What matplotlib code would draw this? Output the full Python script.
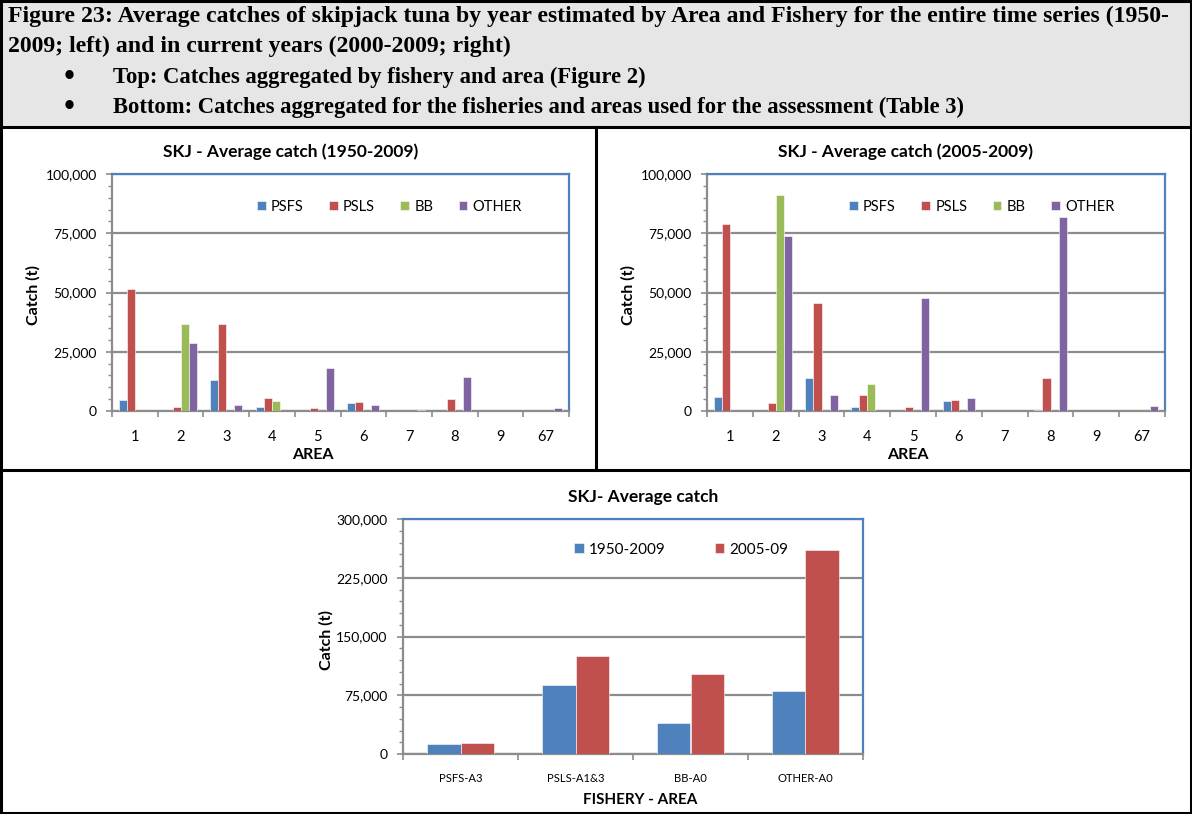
import numpy as np
import matplotlib
matplotlib.use("Agg")
import matplotlib.pyplot as plt
from matplotlib.patches import Rectangle
from matplotlib.lines import Line2D
from matplotlib.ticker import MultipleLocator, FixedLocator, FuncFormatter

# ---------------- data ----------------
areas = ["1", "2", "3", "4", "5", "6", "7", "8", "9", "67"]
fisheries = ["PSFS", "PSLS", "BB", "OTHER"]

# Average catch 1950-2009 by area
psfs_all = [4800, 0, 13200, 1500, 0, 3200, 0, 200, 0, 0]
psls_all = [51300, 1800, 36900, 5600, 1400, 3700, 0, 4900, 0, 0]
bb_all = [0, 36900, 0, 4100, 0, 0, 0, 0, 0, 0]
other_all = [0, 28500, 2500, 0, 18200, 2500, 500, 14400, 0, 1100]

# Average catch 2005-2009 by area
psfs_rec = [5800, 0, 13900, 1500, 0, 4100, 0, 300, 0, 0]
psls_rec = [79000, 3200, 45500, 6600, 1800, 4500, 0, 14100, 0, 0]
bb_rec = [0, 91100, 0, 11300, 0, 0, 0, 0, 0, 0]
other_rec = [0, 73800, 6600, 0, 47700, 5600, 0, 81700, 0, 2100]

# Aggregated by fishery - area
groups = ["PSFS-A3", "PSLS-A1&3", "BB-A0", "OTHER-A0"]
periods = ["1950-2009", "2005-09"]
agg_all = [12300, 88000, 40000, 80300]
agg_rec = [13600, 125000, 102000, 260000]

header_lines = [
    "Figure 23: Average catches of skipjack tuna by year estimated by Area and Fishery for the entire time series (1950-",
    "2009; left) and in current years (2000-2009; right)",
]
bullets = [
    "Top: Catches aggregated by fishery and area (Figure 2)",
    "Bottom: Catches aggregated for the fisheries and areas used for the assessment (Table 3)",
]

# ---------------- style ----------------
W, H = 1192, 814
FONT = "Lato"
SERIF = "Liberation Serif"
colors = ["#4F81BD", "#C0504D", "#9BBB59", "#8064A2"]
GRID = "#8C8C8C"
BLUE_FRAME = "#4F81BD"

fig = plt.figure(figsize=(W / 100, H / 100), dpi=100)
fig.patch.set_facecolor("white")


def fx(x):
    return x / W


def fy(y):
    return 1 - y / H


def add_axes_px(x0, y0, x1, y1):
    return fig.add_axes([x0 / W, 1 - y1 / H, (x1 - x0) / W, (y1 - y0) / H])


# ---------------- header box ----------------
fig.patches.append(Rectangle((0, fy(127)), 1, 127 / H, transform=fig.transFigure,
                             facecolor="#E6E6E6", edgecolor="none", zorder=0))
for i, t in enumerate(header_lines):
    fig.text(fx(8), fy(16 + 30 * i), t, fontsize=17.1, fontweight="bold",
             family=SERIF, va="center", ha="left")
for i, t in enumerate(bullets):
    yy = fy(77 + 30 * i)
    fig.text(fx(62), yy, "\u2022", fontsize=17, fontweight="bold",
             family="DejaVu Sans", va="center", ha="left")
    fig.text(fx(113), yy, t, fontsize=16.3, fontweight="bold",
             family=SERIF, va="center", ha="left")

# frame lines
def fline(x0, y0, x1, y1, lw=2.2):
    fig.add_artist(Line2D([fx(x0), fx(x1)], [fy(y0), fy(y1)], transform=fig.transFigure,
                          color="black", lw=lw, zorder=10))

fline(1, 0, 1, 814)
fline(1191, 0, 1191, 814)
fline(0, 1, 1192, 1)
fline(0, 127, 1192, 127)
fline(596, 127, 596, 470)
fline(0, 470, 1192, 470)
fline(0, 813, 1192, 813)


def style_axes(ax, ymax, major, minor, ncat, xlabsize):
    ax.set_xlim(-0.5, ncat - 0.5)
    ax.set_ylim(0, ymax)
    ax.yaxis.set_major_locator(MultipleLocator(major))
    ax.yaxis.set_minor_locator(MultipleLocator(minor))
    ax.yaxis.set_major_formatter(FuncFormatter(lambda v, p: f"{int(v):,}"))
    ax.xaxis.set_minor_locator(FixedLocator(np.arange(-0.5, ncat, 1.0)))
    ax.tick_params(axis="x", which="major", length=0, pad=14, labelsize=xlabsize,
                   colors="black")
    ax.tick_params(axis="x", which="minor", length=4, width=1.2, color=GRID)
    ax.tick_params(axis="y", which="major", length=4, width=1.2, color=GRID,
                   labelsize=10, pad=7)
    ax.tick_params(axis="y", which="minor", length=3, width=1, color=GRID)
    for lab in ax.get_yticklabels() + ax.get_xticklabels():
        lab.set_family(FONT)
    ax.spines["left"].set_color(GRID)
    ax.spines["bottom"].set_color(GRID)
    ax.spines["left"].set_linewidth(1.6)
    ax.spines["bottom"].set_linewidth(1.6)
    ax.spines["top"].set_color(BLUE_FRAME)
    ax.spines["right"].set_color(BLUE_FRAME)
    ax.spines["top"].set_linewidth(1.6)
    ax.spines["right"].set_linewidth(1.6)
    ax.yaxis.grid(True, which="major", color=GRID, lw=1.6)
    ax.set_axisbelow(True)


def area_chart(x0, x1, title, tcx, data, legx, areacx):
    ax = add_axes_px(x0, 174, x1, 411)
    x = np.arange(len(areas))
    w = 0.175
    for i, (name, vals) in enumerate(zip(fisheries, data)):
        ax.bar(x + (i - 1.5) * w, vals, width=w, color=colors[i], label=name,
               edgecolor="white", linewidth=0.4, zorder=3)
    ax.set_xticks(x)
    ax.set_xticklabels(areas)
    style_axes(ax, 100000, 25000, 5000, len(areas), 10.5)
    ax.legend(loc="center", bbox_to_anchor=(legx, 0.862), ncol=4, frameon=False,
              prop={"family": FONT, "size": 10.5}, handlelength=0.6,
              handleheight=0.6, handletextpad=0.35, columnspacing=1.75)
    fig.text(fx(tcx), fy(152), title, fontsize=12.5, fontweight="bold", family=FONT,
             ha="center", va="center")
    fig.text(fx(areacx), fy(455), "AREA", fontsize=11.5, fontweight="bold", family=FONT,
             ha="center", va="center")
    fig.text(fx(x0 - 79), fy(295), "Catch (t)", fontsize=11.5, fontweight="bold",
             family=FONT, ha="center", va="center", rotation=90)
    return ax


area_chart(112, 569, "SKJ - Average catch (1950-2009)", 291,
           [psfs_all, psls_all, bb_all, other_all], 0.607, 313)
area_chart(707, 1165, "SKJ - Average catch (2005-2009)", 905,
           [psfs_rec, psls_rec, bb_rec, other_rec], 0.60, 908)

# ---------------- bottom chart ----------------
ax = add_axes_px(403, 519, 863, 754)
x = np.arange(len(groups))
w = 0.287
ax.bar(x - w / 2, agg_all, width=w, color=colors[0], label=periods[0],
       edgecolor="white", linewidth=0.4, zorder=3)
ax.bar(x + w / 2, agg_rec, width=w, color=colors[1], label=periods[1],
       edgecolor="white", linewidth=0.4, zorder=3)
ax.set_xticks(x)
ax.set_xticklabels(groups)
style_axes(ax, 300000, 75000, 15000, len(groups), 8.1)
ax.legend(loc="center", bbox_to_anchor=(0.605, 0.87), ncol=2, frameon=False,
          prop={"family": FONT, "size": 11}, handlelength=0.6, handleheight=0.6,
          handletextpad=0.35, columnspacing=3.2)
fig.text(fx(643), fy(497), "SKJ- Average catch", fontsize=12.5, fontweight="bold",
         family=FONT, ha="center", va="center")
fig.text(fx(640), fy(800), "FISHERY - AREA", fontsize=11, fontweight="bold",
         family=FONT, ha="center", va="center")
fig.text(fx(326), fy(640), "Catch (t)", fontsize=11.5, fontweight="bold",
         family=FONT, ha="center", va="center", rotation=90)

fig.savefig("out.png", dpi=100, facecolor="white")
